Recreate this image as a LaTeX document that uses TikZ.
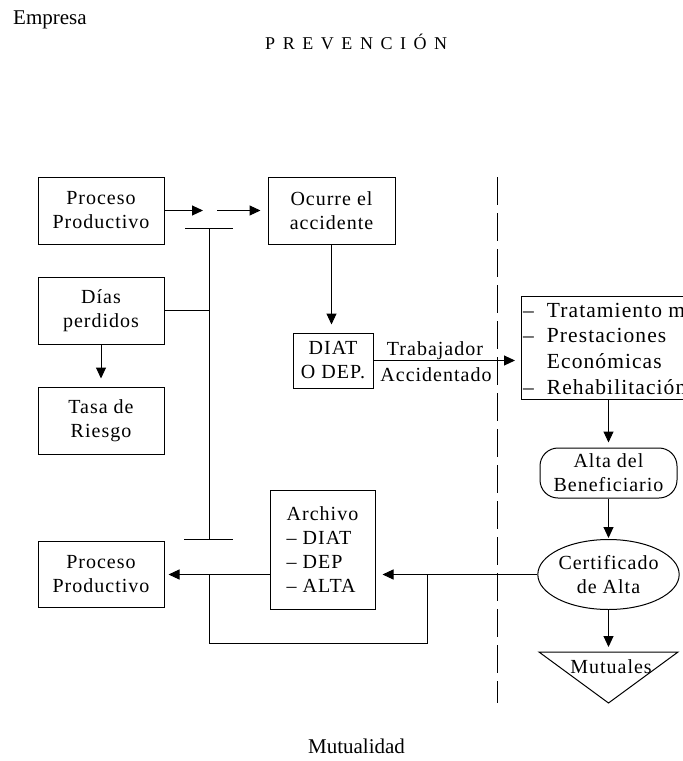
\documentclass[tikz,border=0pt]{standalone}
\usepackage{fontspec}
\setmainfont{Liberation Serif}
\newfontfamily\boxfont[LetterSpace=5]{Liberation Serif}
\newfontfamily\spacedfont[LetterSpace=42]{Liberation Serif}
\usetikzlibrary{arrows.meta,shapes.geometric}

\tikzset{
  boxtext/.style={font=\boxfont\fontsize{20}{24}\selectfont},
  flowbox/.style={draw, line width=1pt, inner sep=0pt, minimum width=126pt,
    minimum height=67pt, align=center, boxtext},
  link/.style={line width=1pt},
  arr/.style={line width=1pt, -{Triangle[length=11pt,width=10pt]}},
  divider/.style={line width=1pt, dash pattern=on 28pt off 8pt},
  plain/.style={inner sep=0pt},
}

\begin{document}
\begin{tikzpicture}[x=1pt,y=-1pt]
\clip (0,0) rectangle (683,761);
\fill[white] (0,0) rectangle (683,761);

% headings
\node[plain, anchor=base west, font=\fontsize{21}{25}\selectfont] (empresa) at (13,24) {Empresa};
\node[plain, anchor=base west, font=\spacedfont\fontsize{18}{22}\selectfont] (prevencion) at (265,49) {PREVENCIÓN};
\node[plain, anchor=base, font=\fontsize{21}{25}\selectfont] (mutualidad) at (356.5,753) {Mutualidad};

% company side
\node[flowbox] (pp1) at (101,210.5) {Proceso\\Productivo};
\node[flowbox] (dias) at (101,310.5) {Días\\perdidos};
\node[flowbox] (tasa) at (101,420.5) {Tasa de\\Riesgo};
\node[flowbox, minimum height=66pt] (pp2) at (101,574.5) {Proceso\\Productivo};
\node[flowbox, minimum width=127pt] (ocurre) at (331.5,210.5) {Ocurre el\\accidente};
\node[flowbox, minimum width=80pt, minimum height=55pt] (diat) at (333,360.5) {DIAT\\O DEP.};
\node[flowbox, minimum width=105pt, minimum height=119pt, align=left] (archivo) at (322.5,549.5) {Archivo\\– DIAT\\– DEP\\– ALTA};

% mutual side
\node[flowbox, anchor=north west, minimum width=240pt, minimum height=103pt] (trat) at (521,296) {};
\node[plain, anchor=north west, font=\boxfont\fontsize{21.5}{25.7}\selectfont] (tratlist)
  at ([xshift=2pt,yshift=-3pt]trat.north west)
  {\begin{tabular}{@{}l@{\hspace{13pt}}l@{}}–&Tratamiento médico\\–&Prestaciones\\&Económicas\\–&Rehabilitación\end{tabular}};
\node[flowbox, minimum width=137pt, minimum height=50pt, rounded corners=18pt] (alta) at (608.5,473) {Alta del\\Beneficiario};
\node[flowbox, ellipse, minimum width=129pt, minimum height=70pt] (cert) at (608.5,574.5) {Certificado\\de Alta};
\coordinate (muttop) at (608.5,652);
\draw[link] (539,652) -- (678,652) -- (608.5,703) -- cycle;
\node[plain, anchor=base, boxtext] (mutuales) at (611,673) {Mutuales};

% boundary between company and mutual
\draw[divider] (497,177) -- (497,703);

% connectors
\coordinate (gapL) at (203,210.5);
\coordinate (gapR) at (217,210.5);
\draw[arr] (pp1.east) -- (gapL);
\draw[arr, shorten >=7pt] (gapR) -- (ocurre.west);

\coordinate (j1) at (209,228);
\coordinate (j2) at (209,539);
\draw[link] ([xshift=-24pt]j1) -- ([xshift=24pt]j1);
\draw[link] ([xshift=-25pt]j2) -- ([xshift=24pt]j2);
\draw[link] (j1) -- (j2);
\draw[link] (dias.east) -- (dias.east -| j1);
\draw[arr, shorten >=8pt] (dias.south) -- (tasa.north);

\draw[arr, shorten >=8pt] (ocurre.south) -- (ocurre.south |- diat.north);
\draw[arr, shorten >=6pt] (diat.east) -- (diat.east -| trat.west);
\node[plain, anchor=base, boxtext] (trabajador) at (435,355) {Trabajador};
\node[plain, anchor=base, boxtext] (accidentado) at (436,381) {Accidentado};

\draw[arr, shorten >=5pt] (alta.north |- trat.south) -- (alta.north);
\draw[arr, shorten >=1pt] (alta.south) -- (cert.north);
\draw[arr, shorten >=5pt] (cert.south) -- (muttop);
\draw[arr, shorten >=7pt] (cert.west) -- (cert.west -| archivo.east);
\draw[arr, shorten >=4pt] (archivo.west |- pp2.east) -- (pp2.east);

\coordinate (loopL) at (209,574.5);
\coordinate (loopR) at (427,574.5);
\draw[link] (loopL) -- ++(0,68.5) -| (loopR);
\end{tikzpicture}
\end{document}
